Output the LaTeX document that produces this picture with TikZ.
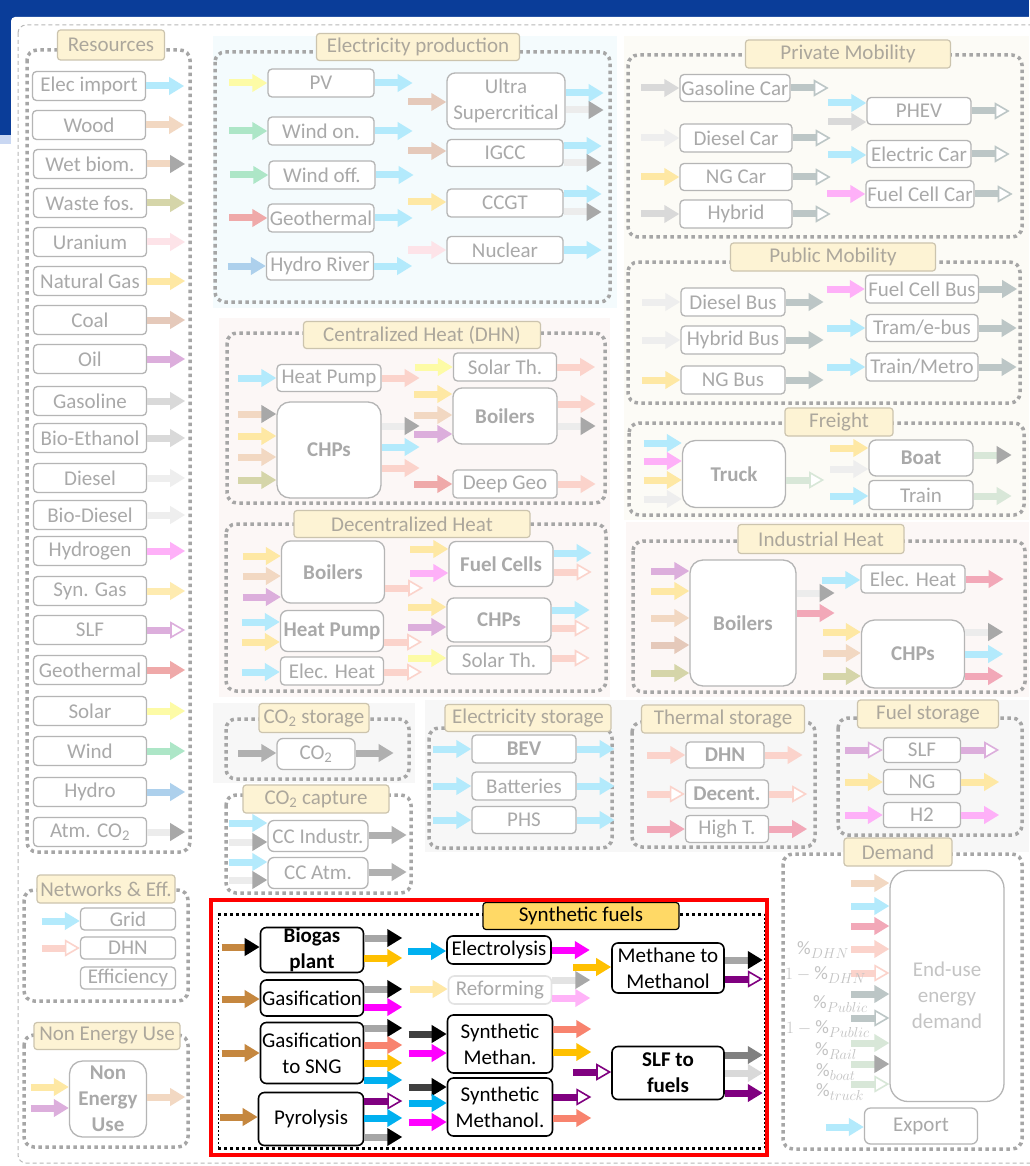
\documentclass[tikz,border=0pt]{standalone}
\usepackage{fontspec}
\setmainfont{Carlito}
\usetikzlibrary{arrows.meta}
% faded palette (everything outside the synthetic fuels box)
\definecolor{hdr}{HTML}{0A3D99}
\definecolor{hdrL}{HTML}{C9D7F2}
\definecolor{fTxt}{HTML}{A9A9A9}
\definecolor{fBrd}{HTML}{B5B5B5}
\definecolor{tFill}{HTML}{FDF3D4}
\definecolor{tBrd}{HTML}{CCC4AE}
\definecolor{tTxt}{HTML}{ACA79C}
\definecolor{gDot}{HTML}{A6A6A6}
\definecolor{gDash}{HTML}{B8B8B8}
\definecolor{pTxt}{HTML}{C3C3C3}
\definecolor{eTxt}{HTML}{C4C4C4}
\definecolor{bgCyan}{HTML}{F4FBFD}
\definecolor{bgBeige}{HTML}{FCFBF6}
\definecolor{bgPink}{HTML}{FCF7F6}
\definecolor{bgGray}{HTML}{F7F7F7}
\definecolor{cElec}{HTML}{B3EAFC}
\definecolor{cWood}{HTML}{F2D8C2}
\definecolor{cWaste}{HTML}{D5D5A9}
\definecolor{cUran}{HTML}{FDE3E8}
\definecolor{cNG}{HTML}{FEE8A4}
\definecolor{cCoal}{HTML}{E5C9BA}
\definecolor{cOil}{HTML}{DCAEDC}
\definecolor{cGaso}{HTML}{D9D9D9}
\definecolor{cDies}{HTML}{EEEEEE}
\definecolor{cH2}{HTML}{FEB0F8}
\definecolor{cSyn}{HTML}{FEEBB0}
\definecolor{cGeo}{HTML}{EFA9A9}
\definecolor{cSol}{HTML}{FDFBA6}
\definecolor{cWind}{HTML}{ADE6C7}
\definecolor{cHyd}{HTML}{ADD0EC}
\definecolor{cLite}{HTML}{ECECEC}
\definecolor{hGray}{HTML}{A8A8A8}
\definecolor{cHeat}{HTML}{FBD3CB}
\definecolor{cHot}{HTML}{F2A8B8}
\definecolor{cMob}{HTML}{BCC6C6}
\definecolor{cFrt}{HTML}{D8E7D8}
\definecolor{cCO2}{HTML}{B0B0B0}
% synthetic fuels palette
\definecolor{sBrown}{HTML}{C5873F}
\definecolor{sGray}{HTML}{A6A6A6}
\definecolor{sGold}{HTML}{FFC000}
\definecolor{sMag}{HTML}{FF00FF}
\definecolor{sSalm}{HTML}{F8836E}
\definecolor{sCyan}{HTML}{00B0F0}
\definecolor{sPurp}{HTML}{800080}
\definecolor{sDark}{HTML}{404040}
\definecolor{sGrayM}{HTML}{808080}
\definecolor{sGrayL}{HTML}{D9D9D9}
\definecolor{sPGold}{HTML}{FFE8A6}
\definecolor{sPPink}{HTML}{FFB3F8}
\definecolor{sPGray}{HTML}{E3E3E3}
\definecolor{sFill}{HTML}{FFD966}
% stub arrows: into a node's west side / out of its east side, at height y
\newcommand{\ain}[3]{\draw[#1] (#2.west |- 0,#3) ++(-38,0) -- (#2.west |- 0,#3);}
\newcommand{\aout}[3]{\draw[#1] (#2.east |- 0,#3) -- ++(38,0);}

\begin{document}
\begin{tikzpicture}[x=1pt,y=-1pt,
  font=\fontsize{21}{26}\selectfont,
  nd/.style={draw=fBrd,line width=1.3pt,rounded corners=4pt,fill=white,text=fTxt,inner sep=0pt,align=center},
  sz/.style 2 args={minimum width=#1,minimum height=#2},
  bx/.style={font=\fontsize{21}{26}\selectfont\bfseries},
  big/.style={rounded corners=13pt},
  res/.style={nd,sz={113}{29}},
  sn/.style={draw=black,line width=1.6pt,rounded corners=6pt,fill=white,text=black,inner sep=0pt,align=center},
  ttl/.style={draw=tBrd,fill=tFill,text=tTxt,line width=1.2pt,rounded corners=3pt,inner sep=0pt},
  grp/.style={draw=gDot,line width=3.5pt,dash pattern=on 3.5pt off 3.5pt,rounded corners=10pt},
  arw/.style={line width=7pt,draw=#1,-{Triangle[length=15pt,width=17pt]}},
  arh/.style 2 args={line width=7pt,draw=#1,-{Triangle[length=15pt,width=17pt,color=#2]}},
  aro/.style={line width=7pt,draw=#1,-{Triangle[length=15pt,width=17pt,fill=white,line width=1.6pt]}},
  pct/.style={text=pTxt,font=\fontsize{19}{21}\selectfont,inner sep=0pt,anchor=west}
]
\useasboundingbox (0,0) rectangle (1029,1166);

% slide background and frame
\fill[hdr] (0,0) rectangle (1029,18);
\fill[hdr] (0,0) rectangle (12,135);
\fill[hdrL] (0,135) rectangle (12,144);
\fill[white,rounded corners=4pt] (11,17) rectangle (1045,1180);
\draw[gDash,line width=1pt,dash pattern=on 4pt off 3pt,rounded corners=8pt] (18,25) rectangle (1045,1163);

% tinted areas
\fill[bgCyan] (213,36) rectangle (617,308);
\fill[bgBeige] (624,36) rectangle (1029,520);
\fill[bgPink] (219,318) rectangle (610,697);
\fill[bgPink] (626,522) rectangle (1029,697);
\fill[bgGray] (213,703) rectangle (415,783);
\fill[bgGray] (425,700) rectangle (1029,852);

% groups
\draw[grp] (27,50) rectangle (190,852);
\draw[grp] (215,52) rectangle (610,302);
\draw[grp] (628,55) rectangle (1022,237);
\draw[grp] (628,262) rectangle (1020,403);
\draw[grp] (629,423) rectangle (1024,515);
\draw[grp] (633,541) rectangle (1025,692);
\draw[grp] (227,333) rectangle (605,503);
\draw[grp] (226,524) rectangle (606,691);
\draw[grp] (226,719) rectangle (409,779);
\draw[grp] (226,795) rectangle (411,893);
\draw[grp] (429,728) rectangle (612,848);
\draw[grp] (632,722) rectangle (815,847);
\draw[grp] (838,718) rectangle (1022,835);
\draw[grp] (783,854) rectangle (1022,1149);
\draw[grp] (24,890) rectangle (188,1001);
\draw[grp] (24,1035) rectangle (188,1147);

% titles
\node[ttl,sz={107}{30}] (tRes) at (111,45) {Resources};
\node[ttl,sz={203}{27}] (tEP) at (418,47) {Electricity production};
\node[ttl,sz={205}{28}] (tPM) at (848,54) {Private Mobility};
\node[ttl,sz={205}{28}] (tPub) at (833,257) {Public Mobility};
\node[ttl,sz={108}{28}] (tFr) at (839,422) {Freight};
\node[ttl,sz={166}{29}] (tIH) at (821,539) {Industrial Heat};
\node[ttl,sz={237}{27}] (tCH) at (422,335) {Centralized Heat (DHN)};
\node[ttl,sz={236}{27}] (tDH) at (412,524) {Decentralized Heat};
\node[ttl,sz={110}{29}] (tCS) at (314,718) {CO\textsubscript{2} storage};
\node[ttl,sz={146}{28}] (tCC) at (316,799) {CO\textsubscript{2} capture};
\node[ttl,sz={166}{27}] (tES) at (528,718) {Electricity storage};
\node[ttl,sz={163}{28}] (tTS) at (723,719) {Thermal storage};
\node[ttl,sz={141}{28}] (tFS) at (928,714) {Fuel storage};
\node[ttl,sz={108}{28}] (tDem) at (898,852) {Demand};
\node[ttl,sz={138}{28}] (tNet) at (106,889) {Networks \& Eff.};
\node[ttl,sz={146}{27}] (tNEU) at (107,1036) {Non Energy Use};

% resources
\node[res] (rImp) at (89,86) {Elec import};
\node[res] (rWood) at (89,125) {Wood};
\node[res] (rWet) at (90,164) {Wet biom.};
\node[res] (rWaste) at (90,203) {Waste fos.};
\node[res] (rUran) at (90,242) {Uranium};
\node[res] (rNG) at (90,281) {Natural Gas};
\node[res] (rCoal) at (90,320) {Coal};
\node[res] (rOil) at (90,359) {Oil};
\node[res] (rGaso) at (90,401) {Gasoline};
\node[res] (rEth) at (90,438) {Bio-Ethanol};
\node[res] (rDies) at (90,478) {Diesel};
\node[res] (rBioD) at (90,515) {Bio-Diesel};
\node[res] (rH2) at (90,551) {Hydrogen};
\node[res] (rSyn) at (90,591) {Syn. Gas};
\node[res] (rSLF) at (90,630) {SLF};
\node[res] (rGeo) at (90,670) {Geothermal};
\node[res] (rSol) at (90,711) {Solar};
\node[res] (rWind) at (90,751) {Wind};
\node[res] (rHyd) at (90,792) {Hydro};
\node[res] (rCO2) at (90,832) {Atm. CO\textsubscript{2}};
\aout{arw=cElec}{rImp}{86}
\aout{arw=cWood}{rWood}{125}
\aout{arh={cWood}{hGray}}{rWet}{164}
\aout{arw=cWaste}{rWaste}{203}
\aout{arw=cUran}{rUran}{242}
\aout{arw=cNG}{rNG}{281}
\aout{arw=cCoal}{rCoal}{320}
\aout{arw=cOil}{rOil}{359}
\aout{arw=cGaso}{rGaso}{401}
\aout{arw=cGaso}{rEth}{438}
\aout{arw=cDies}{rDies}{478}
\aout{arw=cDies}{rBioD}{515}
\aout{arw=cH2}{rH2}{551}
\aout{arw=cSyn}{rSyn}{591}
\aout{aro=cOil}{rSLF}{630}
\aout{arw=cGeo}{rGeo}{670}
\aout{arw=cSol}{rSol}{711}
\aout{arw=cWind}{rWind}{751}
\aout{arw=cHyd}{rHyd}{792}
\aout{arh={cLite}{hGray}}{rCO2}{832}

% electricity production
\node[nd,sz={106}{28}] (ePV) at (321,83) {PV};
\node[nd,sz={106}{28}] (eWon) at (321,131) {Wind on.};
\node[nd,sz={106}{28}] (eWoff) at (322,175) {Wind off.};
\node[nd,sz={106}{28}] (eGeo) at (321,218) {Geothermal};
\node[nd,sz={107}{28}] (eHyd) at (320,266) {Hydro River};
\node[nd,sz={118}{56},rounded corners=8pt] (eUSC) at (506,101) {Ultra\\Supercritical};
\node[nd,sz={116}{27}] (eIGCC) at (505,153) {IGCC};
\node[nd,sz={116}{28}] (eCCGT) at (505,203) {CCGT};
\node[nd,sz={116}{27}] (eNuc) at (505,250) {Nuclear};
\ain{arw=cSol}{ePV}{83}     \aout{arw=cElec}{ePV}{83}
\ain{arw=cWind}{eWon}{131}  \aout{arw=cElec}{eWon}{131}
\ain{arw=cWind}{eWoff}{175} \aout{arw=cElec}{eWoff}{175}
\ain{arw=cGeo}{eGeo}{218}   \aout{arw=cElec}{eGeo}{218}
\ain{arw=cHyd}{eHyd}{266}   \aout{arw=cElec}{eHyd}{266}
\ain{arw=cCoal}{eUSC}{102}
\aout{arw=cElec}{eUSC}{93}  \aout{arh={cLite}{hGray}}{eUSC}{110}
\ain{arw=cCoal}{eIGCC}{151}
\aout{arw=cElec}{eIGCC}{146} \aout{arh={cLite}{hGray}}{eIGCC}{163}
\ain{arw=cNG}{eCCGT}{202}
\aout{arw=cElec}{eCCGT}{194} \aout{arh={cLite}{hGray}}{eCCGT}{212}
\ain{arw=cUran}{eNuc}{250}  \aout{arw=cElec}{eNuc}{250}

% private mobility
\node[nd,sz={110}{27}] (pGas) at (735,88) {Gasoline Car};
\node[nd,sz={112}{28}] (pDie) at (736,138) {Diesel Car};
\node[nd,sz={112}{27}] (pNG) at (736,177) {NG Car};
\node[nd,sz={112}{28}] (pHyb) at (736,214) {Hybrid};
\node[nd,sz={104}{27}] (pPHEV) at (919,111) {PHEV};
\node[nd,sz={104}{27}] (pEC) at (919,154) {Electric Car};
\node[nd,sz={108}{27}] (pFC) at (920,194) {Fuel Cell Car};
\ain{arw=cGaso}{pGas}{88}  \aout{aro=cMob}{pGas}{88}
\ain{arw=cDies}{pDie}{138} \aout{aro=cMob}{pDie}{138}
\ain{arw=cNG}{pNG}{177}    \aout{aro=cMob}{pNG}{177}
\ain{arw=cGaso}{pHyb}{214} \aout{aro=cMob}{pHyb}{214}
\ain{arw=cElec}{pPHEV}{103} \ain{arw=cGaso}{pPHEV}{122} \aout{aro=cMob}{pPHEV}{111}
\ain{arw=cElec}{pEC}{155}  \aout{aro=cMob}{pEC}{154}
\ain{arw=cH2}{pFC}{194}    \aout{aro=cMob}{pFC}{194}

% public mobility
\node[nd,sz={104}{28}] (uDB) at (733,302) {Diesel Bus};
\node[nd,sz={104}{28}] (uHB) at (733,340) {Hybrid Bus};
\node[nd,sz={104}{28}] (uNG) at (733,380) {NG Bus};
\node[nd,sz={113}{28}] (uFC) at (922,289) {Fuel Cell Bus};
\node[nd,sz={112}{27}] (uTram) at (922,328) {Tram/e-bus};
\node[nd,sz={112}{28}] (uTrain) at (922,367) {Train/Metro};
\ain{arw=cDies}{uDB}{302}  \aout{arw=cMob}{uDB}{302}
\ain{arw=cDies}{uHB}{340}  \aout{arw=cMob}{uHB}{340}
\ain{arw=cNG}{uNG}{380}    \aout{arw=cMob}{uNG}{380}
\ain{arw=cH2}{uFC}{289}    \aout{arw=cMob}{uFC}{289}
\ain{arw=cElec}{uTram}{328} \aout{arw=cMob}{uTram}{328}
\ain{arw=cElec}{uTrain}{367} \aout{arw=cMob}{uTrain}{367}

% freight
\node[nd,bx,big,sz={103}{67}] (fTruck) at (734,474) {Truck};
\node[nd,bx,sz={104}{36},rounded corners=7pt] (fBoat) at (921,458) {Boat};
\node[nd,sz={104}{29}] (fTrain) at (921,495) {Train};
\ain{arw=cElec}{fTruck}{443} \ain{arw=cH2}{fTruck}{461}
\ain{arw=cNG}{fTruck}{480}   \ain{arw=cDies}{fTruck}{499}
\aout{aro=cFrt}{fTruck}{480}
\ain{arw=cNG}{fBoat}{448}    \ain{arw=cDies}{fBoat}{469}
\aout{arh={cFrt}{hGray}}{fBoat}{455}
\ain{arw=cElec}{fTrain}{496} \aout{arw=cFrt}{fTrain}{496}

% industrial heat
\node[nd,bx,big,sz={106}{126}] (iBoil) at (743,623) {Boilers};
\node[nd,sz={104}{28}] (iEH) at (913,579) {Elec. Heat};
\node[nd,bx,big,sz={103}{68}] (iCHP) at (913,654) {CHPs};
\ain{arw=cOil}{iBoil}{571}  \ain{arw=cNG}{iBoil}{591}
\ain{arw=cWood}{iBoil}{618} \ain{arw=cCoal}{iBoil}{645}
\ain{arw=cWaste}{iBoil}{673}
\aout{arh={cLite}{hGray}}{iBoil}{593} \aout{arw=cHot}{iBoil}{613}
\ain{arw=cElec}{iEH}{580}   \aout{arw=cHot}{iEH}{579}
\ain{arw=cNG}{iCHP}{632}    \ain{arw=cWood}{iCHP}{653}
\ain{arw=cWaste}{iCHP}{676}
\aout{arh={cLite}{hGray}}{iCHP}{632} \aout{arw=cElec}{iCHP}{654}
\aout{arw=cHot}{iCHP}{676}

% centralized heat
\node[nd,sz={104}{27}] (cHP) at (329,378) {Heat Pump};
\node[nd,bx,big,sz={104}{96}] (cCHP) at (329,450) {CHPs};
\node[nd,sz={103}{28}] (cST) at (505,367) {Solar Th.};
\node[nd,bx,sz={104}{56},rounded corners=9pt] (cBoil) at (505,416) {Boilers};
\node[nd,sz={104}{28}] (cDG) at (505,484) {Deep Geo};
\ain{arw=cElec}{cHP}{378}   \aout{arw=cHeat}{cHP}{378}
\ain{arh={cWood}{hGray}}{cCHP}{414} \ain{arw=cNG}{cCHP}{436}
\ain{arw=cWood}{cCHP}{457}  \ain{arw=cWaste}{cCHP}{480}
\aout{arh={cLite}{hGray}}{cCHP}{426} \aout{arw=cElec}{cCHP}{447}
\aout{arw=cHeat}{cCHP}{468}
\ain{arw=cSol}{cST}{367}    \aout{arw=cHeat}{cST}{367}
\ain{arw=cNG}{cBoil}{394}   \ain{arw=cWood}{cBoil}{415}
\ain{arw=cOil}{cBoil}{434}
\aout{arw=cHeat}{cBoil}{404} \aout{arh={cLite}{hGray}}{cBoil}{426}
\ain{arw=cGeo}{cDG}{484}    \aout{arw=cHeat}{cDG}{484}

% decentralized heat
\node[nd,bx,sz={103}{62},rounded corners=9pt] (dBoil) at (333,572) {Boilers};
\node[nd,bx,sz={103}{41},rounded corners=7pt] (dHP) at (332,631) {Heat Pump};
\node[nd,sz={103}{28}] (dEH) at (332,671) {Elec. Heat};
\node[nd,bx,sz={104}{45},rounded corners=7pt] (dFC) at (501,564) {Fuel Cells};
\node[nd,bx,sz={104}{44},rounded corners=7pt] (dCHP) at (499,620) {CHPs};
\node[nd,sz={104}{28}] (dST) at (499,660) {Solar Th.};
\ain{arw=cNG}{dBoil}{556}   \ain{arw=cWood}{dBoil}{576}
\ain{arw=cOil}{dBoil}{597}  \aout{aro=cHeat}{dBoil}{588}
\ain{arw=cElec}{dHP}{622}   \ain{arw=cNG}{dHP}{642}
\aout{aro=cHeat}{dHP}{642}
\ain{arw=cElec}{dEH}{672}   \aout{aro=cHeat}{dEH}{672}
\ain{arw=cNG}{dFC}{549}     \ain{arw=cH2}{dFC}{573}
\aout{arw=cElec}{dFC}{553}  \aout{aro=cHeat}{dFC}{572}
\ain{arw=cNG}{dCHP}{607}    \ain{arw=cOil}{dCHP}{627}
\aout{arw=cElec}{dCHP}{610} \aout{aro=cHeat}{dCHP}{628}
\ain{arw=cSol}{dST}{658}    \aout{aro=cHeat}{dST}{658}

% CO2 storage and capture
\node[nd,sz={78}{31},rounded corners=6pt] (sCO2) at (316,754) {CO\textsubscript{2}};
\node[nd,sz={100}{31},rounded corners=6pt] (sCCI) at (318,836) {CC Industr.};
\node[nd,sz={100}{31},rounded corners=6pt] (sCCA) at (318,873) {CC Atm.};
\ain{arw=cCO2}{sCO2}{753}   \aout{arw=cCO2}{sCO2}{753}
\ain{arw=cElec}{sCCI}{823}  \ain{arh={cLite}{hGray}}{sCCI}{842}
\aout{arw=cCO2}{sCCI}{835}
\ain{arw=cElec}{sCCA}{862}  \ain{arh={cLite}{hGray}}{sCCA}{880}
\aout{arw=cCO2}{sCCA}{872}

% electricity storage
\node[nd,bx,sz={104}{28}] (eBEV) at (524,749) {BEV};
\node[nd,sz={104}{28}] (eBat) at (524,786) {Batteries};
\node[nd,sz={104}{27}] (ePHS) at (524,820) {PHS};
\ain{arw=cElec}{eBEV}{749}  \aout{arw=cElec}{eBEV}{749}
\ain{arw=cElec}{eBat}{786}  \aout{arw=cElec}{eBat}{786}
\ain{arw=cElec}{ePHS}{820}  \aout{arw=cElec}{ePHS}{820}

% thermal storage
\node[nd,bx,sz={78}{26}] (tDHN) at (725,755) {DHN};
\node[nd,bx,sz={83}{28}] (tDec) at (727,794) {Decent.};
\node[nd,sz={83}{27}] (tHT) at (727,829) {High T.};
\ain{arw=cHeat}{tDHN}{755}  \aout{arw=cHeat}{tDHN}{755}
\ain{aro=cHeat}{tDec}{794}  \aout{aro=cHeat}{tDec}{794}
\ain{arw=cHot}{tHT}{829}    \aout{arw=cHot}{tHT}{829}

% fuel storage
\node[nd,sz={77}{25}] (kSLF) at (922,750) {SLF};
\node[nd,sz={77}{25}] (kNG) at (922,782) {NG};
\node[nd,sz={77}{25}] (kH2) at (922,815) {H2};
\ain{aro=cOil}{kSLF}{750}   \aout{aro=cOil}{kSLF}{750}
\ain{arw=cNG}{kNG}{782}     \aout{arw=cNG}{kNG}{782}
\ain{arw=cH2}{kH2}{815}     \aout{arw=cH2}{kH2}{815}

% demand
\node[nd,sz={114}{231},rounded corners=18pt,text=eTxt] (mEUD) at (947,986) {\rule{0pt}{34pt}End-use\\energy\\demand};
\node[nd,sz={113}{36},rounded corners=6pt] (mExp) at (921,1126) {Export};
\ain{arw=cWood}{mEUD}{883}
\ain{arw=cElec}{mEUD}{906}
\ain{arw=cHot}{mEUD}{926}
\ain{arw=cHeat}{mEUD}{949}
\ain{aro=cHeat}{mEUD}{973}
\ain{arw=cMob}{mEUD}{994}
\ain{aro=cMob}{mEUD}{1018}
\ain{arw=cFrt}{mEUD}{1043}
\ain{arh={cFrt}{hGray}}{mEUD}{1064}
\ain{aro=cFrt}{mEUD}{1084}
\ain{arw=cElec}{mExp}{1127}
\node[pct] (lDHN) at (797,950) {\(\%_{DHN}\)};
\node[pct] (lDHNc) at (785,975) {\(1-\%_{DHN}\)};
\node[pct] (lPub) at (813,1004) {\(\%_{Public}\)};
\node[pct] (lPubc) at (786,1029) {\(1-\%_{Public}\)};
\node[pct] (lRail) at (815,1051) {\(\%_{Rail}\)};
\node[pct] (lBoat) at (816,1072) {\(\%_{boat}\)};
\node[pct] (lTruck) at (816,1092) {\(\%_{truck}\)};

% networks & efficiency
\node[nd,sz={95}{22}] (nGrid) at (128,919) {Grid};
\node[nd,sz={95}{22}] (nDHN) at (128,948) {DHN};
\node[nd,sz={95}{22}] (nEff) at (128,978) {Efficiency};
\ain{arw=cElec}{nGrid}{921}
\ain{aro=cHeat}{nDHN}{948}

% non energy use
\node[nd,bx,big,sz={77}{76}] (nNEU) at (108,1099) {Non\\Energy\\Use};
\ain{arw=cNG}{nNEU}{1087}  \ain{arw=cOil}{nNEU}{1108}
\aout{arw=cWood}{nNEU}{1097}

% synthetic fuels
\draw[black,line width=3pt,dash pattern=on 3pt off 3pt] (218,914) -- (764,914);
\draw[black,line width=3pt,dash pattern=on 3pt off 3pt] (218,1148) -- (764,1148);
\draw[black,line width=0.8pt,dash pattern=on 2pt off 2pt] (218,914) -- (218,1148);
\draw[black,line width=0.8pt,dash pattern=on 2pt off 2pt] (764,914) -- (764,1148);
\node[draw=black,fill=sFill,line width=1.2pt,rounded corners=3pt,inner sep=0pt,sz={196}{27}] (tSyn) at (581,916) {Synthetic fuels};

\node[sn,bx,sz={103}{45}] (sBio) at (312,950) {Biogas\\plant};
\node[sn,sz={103}{36}] (sGas) at (312,998) {Gasification};
\node[sn,sz={103}{61}] (sGSNG) at (312,1053) {Gasification\\to SNG};
\node[sn,sz={105}{53}] (sPyr) at (311,1119) {Pyrolysis};
\node[sn,sz={104}{28}] (sEl) at (499,950) {Electrolysis};
\node[sn,sz={103}{28},draw=sPGray,text=fTxt] (sRef) at (500,990) {Reforming};
\node[sn,sz={105}{58}] (sSM) at (500,1044) {Synthetic\\Methan.};
\node[sn,sz={105}{58}] (sSMo) at (500,1107) {Synthetic\\Methanol.};
\node[sn,sz={112}{50}] (sMM) at (668,968) {Methane to\\Methanol};
\node[sn,bx,sz={112}{53}] (sSLF) at (668,1073) {SLF to\\fuels};

\ain{arh={sBrown}{black}}{sBio}{947}
\aout{arh={sGray}{black}}{sBio}{938} \aout{arw=sGold}{sBio}{958}
\ain{arw=sBrown}{sGas}{999}
\aout{arh={sGray}{black}}{sGas}{989} \aout{arw=sMag}{sGas}{1007}
\ain{arw=sBrown}{sGSNG}{1053}
\aout{arh={sGray}{black}}{sGSNG}{1028} \aout{arw=sSalm}{sGSNG}{1045}
\aout{arw=sGold}{sGSNG}{1063} \aout{arw=sCyan}{sGSNG}{1080}
\ain{arw=sBrown}{sPyr}{1117}
\aout{aro=sPurp}{sPyr}{1101} \aout{arw=sCyan}{sPyr}{1118}
\aout{arh={sGray}{black}}{sPyr}{1137}
\ain{arw=sCyan}{sEl}{951}    \aout{arw=sMag}{sEl}{950}
\ain{arw=sPGold}{sRef}{989}
\aout{arh={sPGray}{hGray}}{sRef}{980} \aout{arw=sPPink}{sRef}{998}
\ain{arh={sDark}{black}}{sSM}{1034} \ain{arw=sMag}{sSM}{1053}
\aout{arw=sSalm}{sSM}{1029} \aout{arw=sGold}{sSM}{1052}
\ain{arh={sDark}{black}}{sSMo}{1087} \ain{arw=sCyan}{sSMo}{1103}
\ain{arw=sMag}{sSMo}{1122}
\aout{aro=sPurp}{sSMo}{1097} \aout{arw=sSalm}{sSMo}{1118}
\ain{arw=sGold}{sMM}{967}
\aout{arh={sGray}{black}}{sMM}{960} \aout{aro=sPurp}{sMM}{979}
\ain{aro=sPurp}{sSLF}{1072}
\aout{arw=sGrayM}{sSLF}{1055} \aout{arw=sGrayL}{sSLF}{1073}
\aout{arw=sPurp}{sSLF}{1093}

\draw[red,line width=4pt] (211,900) rectangle (767,1155);
\end{tikzpicture}
\end{document}
